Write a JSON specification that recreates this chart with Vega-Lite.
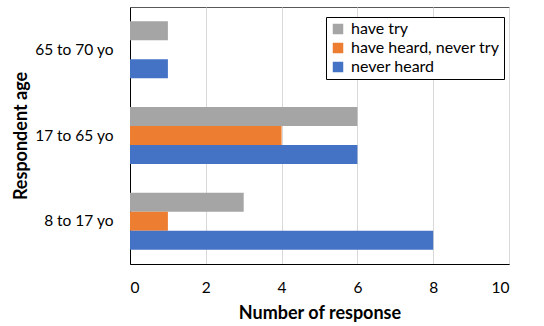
{
  "$schema": "https://vega.github.io/schema/vega-lite/v6.json",
  "width": 379,
  "height": 257,
  "autosize": {"type": "none"},
  "padding": {"left": 130, "top": 7, "right": 35, "bottom": 62},
  "config": {
    "font": "Lato",
    "view": {"stroke": "#595959", "strokeWidth": 1}
  },
  "data": {
    "values": [
      {"age": "65 to 70 yo", "status": "have try", "count": 1},
      {"age": "65 to 70 yo", "status": "have heard, never try", "count": 0},
      {"age": "65 to 70 yo", "status": "never heard", "count": 1},
      {"age": "17 to 65 yo", "status": "have try", "count": 6},
      {"age": "17 to 65 yo", "status": "have heard, never try", "count": 4},
      {"age": "17 to 65 yo", "status": "never heard", "count": 6},
      {"age": "8 to 17 yo", "status": "have try", "count": 3},
      {"age": "8 to 17 yo", "status": "have heard, never try", "count": 1},
      {"age": "8 to 17 yo", "status": "never heard", "count": 8}
    ]
  },
  "mark": {"type": "bar"},
  "encoding": {
    "y": {
      "field": "age",
      "type": "nominal",
      "sort": ["65 to 70 yo", "17 to 65 yo", "8 to 17 yo"],
      "scale": {"paddingInner": 0.335, "paddingOuter": 0.167},
      "axis": {
        "title": "Respondent age",
        "titleFontSize": 18,
        "titleFontWeight": "bold",
        "titleColor": "black",
        "titlePadding": 4,
        "labelFontSize": 15.5,
        "labelColor": "black",
        "labelPadding": 17,
        "ticks": false,
        "domainColor": "black"
      }
    },
    "yOffset": {
      "field": "status",
      "type": "nominal",
      "sort": ["have try", "have heard, never try", "never heard"],
      "scale": {"paddingInner": 0, "paddingOuter": 0}
    },
    "x": {
      "field": "count",
      "type": "quantitative",
      "scale": {"domain": [0, 10]},
      "axis": {
        "values": [0, 2, 4, 6, 8, 10],
        "title": "Number of response",
        "titleFontSize": 18,
        "titleFontWeight": "bold",
        "titleColor": "black",
        "titlePadding": 9,
        "labelFontSize": 15.5,
        "labelColor": "black",
        "labelPadding": 16,
        "ticks": false,
        "grid": true,
        "gridColor": "#D9D9D9",
        "domainColor": "black"
      }
    },
    "color": {
      "field": "status",
      "type": "nominal",
      "sort": ["have try", "have heard, never try", "never heard"],
      "scale": {
        "domain": ["have try", "have heard, never try", "never heard"],
        "range": ["#A5A5A5", "#ED7D31", "#4472C4"]
      },
      "legend": {
        "title": null,
        "orient": "none",
        "legendX": 196,
        "legendY": 10,
        "strokeColor": "black",
        "fillColor": "white",
        "padding": 4,
        "symbolType": "square",
        "symbolSize": 110,
        "symbolStrokeWidth": 0,
        "labelFontSize": 16,
        "labelColor": "black",
        "rowPadding": 3,
        "labelOffset": 5
      }
    }
  }
}
